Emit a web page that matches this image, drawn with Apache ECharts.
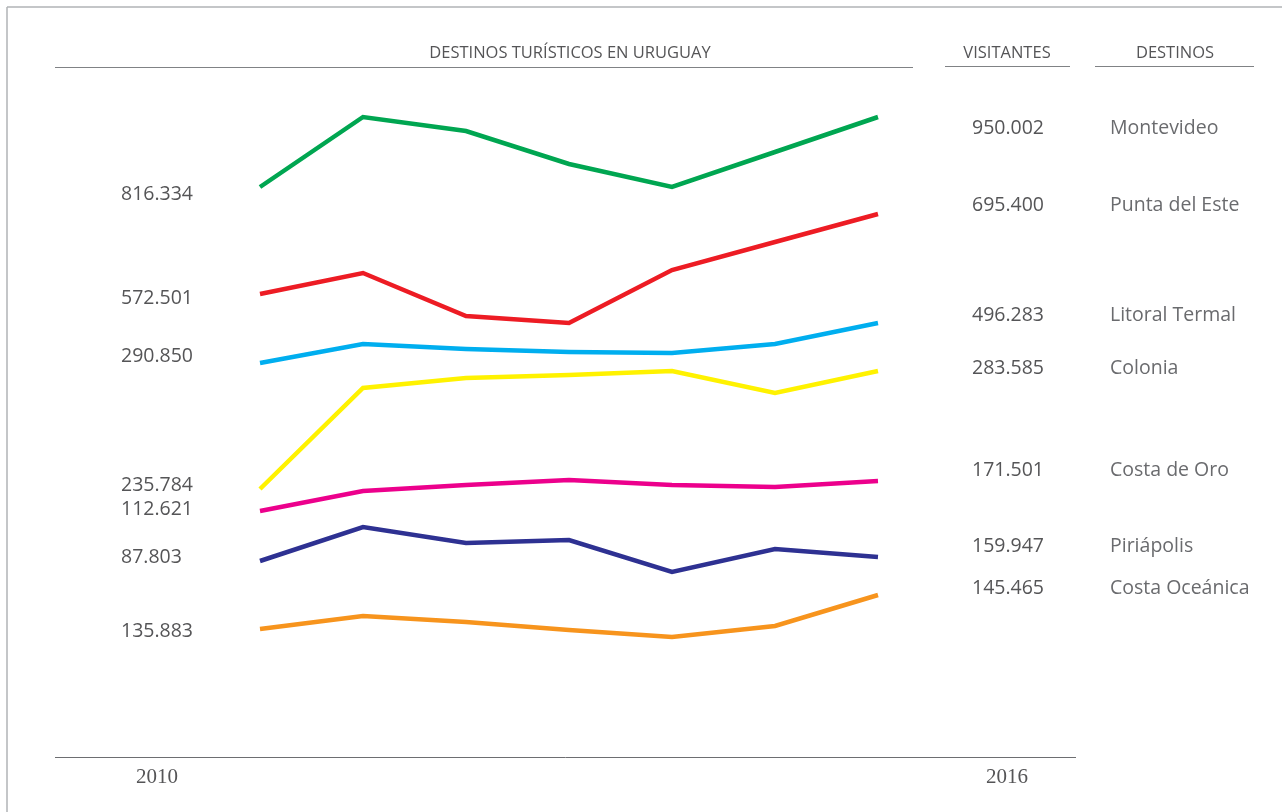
<!DOCTYPE html>
<html>
<head>
<meta charset="utf-8">
<script src="https://cdn.jsdelivr.net/npm/echarts@6/dist/echarts.min.js"></script>
<style>
  html, body { margin: 0; padding: 0; background: #ffffff; }
  #chart { width: 1282px; height: 812px; }
</style>
</head>
<body>
<div id="chart"></div>
<script>
// Years on the horizontal axis
const years = ['2010', '2011', '2012', '2013', '2014', '2015', '2016'];

// Destinations, top to bottom
const destinos = ['Montevideo', 'Punta del Este', 'Litoral Termal', 'Colonia', 'Costa de Oro', 'Piriápolis', 'Costa Oceánica'];

// Visitors in the first and the last year
const visitantes2010 = ['816.334', '572.501', '290.850', '235.784', '112.621', '87.803', '135.883'];
const visitantes2016 = ['950.002', '695.400', '496.283', '283.585', '171.501', '159.947', '145.465'];

// Relative height of each destination's line, year by year
const montevideo    = [57.0, 64.0, 62.6, 59.3, 57.0, 60.5, 64.0];
const puntaDelEste  = [46.3, 48.4, 44.1, 43.4, 48.7, 51.5, 54.3];
const litoralTermal = [39.4, 41.3, 40.8, 40.5, 40.4, 41.3, 43.4];
const colonia       = [26.8, 36.9, 37.9, 38.2, 38.6, 36.4, 38.6];
const costaDeOro    = [24.6, 26.6, 27.2, 27.7, 27.2, 27.0, 27.6];
const piriapolis    = [19.6, 23.0, 21.4, 21.7, 18.5, 20.8, 20.0];
const costaOceanica = [12.8, 14.1, 13.5, 12.7, 12.0, 13.1, 16.2];

const seriesData = [montevideo, puntaDelEste, litoralTermal, colonia, costaDeOro, piriapolis, costaOceanica];
const colors = ['#00a651', '#ed1c24', '#00aeef', '#fff200', '#ec008c', '#2e3192', '#f7941d'];

// Vertical placement of the side labels
const leftLabelY  = [194, 298, 356, 485, 509, 557, 631];
const rightLabelY = [128, 205, 315, 368, 470, 546, 588];

const SANS = '"Open Sans", "Noto Sans", sans-serif';
const SERIF = '"Liberation Serif", "DejaVu Serif", serif';
const TEXT_COLOR = '#555557';
const NAME_COLOR = '#6a6b6e';
const RULE_COLOR = '#808285';

const chart = echarts.init(document.getElementById('chart'), null, { renderer: 'canvas' });

function text(x, y, str, opts) {
  return {
    type: 'text', x: x, y: y, silent: true,
    style: Object.assign({
      text: str, fill: TEXT_COLOR, font: '19.5px ' + SANS,
      textAlign: 'left', textVerticalAlign: 'middle'
    }, opts || {})
  };
}
function rule(x1, y1, x2, y2, color, w) {
  return {
    type: 'line', silent: true,
    shape: { x1: x1, y1: y1, x2: x2, y2: y2 },
    style: { stroke: color || RULE_COLOR, lineWidth: w || 1 }
  };
}

const graphics = [
  // frame
  rule(7, 7, 1282, 7, '#b1b3b6', 1.5),
  rule(7, 7, 7, 812, '#b1b3b6', 1.5),
  // header rules
  rule(55, 67.5, 913, 67.5),
  rule(945, 66.5, 1070, 66.5),
  rule(1095, 66.5, 1254, 66.5),
  // bottom rule
  rule(55, 757.5, 1076, 757.5, '#6d6e71', 1),
  // headers
  text(570, 53, 'DESTINOS TURÍSTICOS EN URUGUAY', { font: '16.5px ' + SANS, textAlign: 'center' }),
  text(1007, 53, 'VISITANTES', { font: '16.5px ' + SANS, textAlign: 'center' }),
  text(1175, 53, 'DESTINOS', { font: '16.5px ' + SANS, textAlign: 'center' }),
  // years
  text(157, 777, years[0], { font: '21px ' + SERIF, textAlign: 'center' }),
  text(1007, 777, years[years.length - 1], { font: '21px ' + SERIF, textAlign: 'center' })
];

destinos.forEach(function (name, i) {
  graphics.push(text(121, leftLabelY[i], visitantes2010[i]));
  graphics.push(text(1008, rightLabelY[i], visitantes2016[i], { textAlign: 'center' }));
  graphics.push(text(1110, rightLabelY[i], name, { fill: NAME_COLOR }));
});

chart.setOption({
  backgroundColor: '#ffffff',
  animation: false,
  grid: { left: 260, right: 404, top: 67, bottom: 55 },
  xAxis: {
    type: 'category', data: years, boundaryGap: false,
    axisLine: { show: false }, axisTick: { show: false },
    axisLabel: { show: false }, splitLine: { show: false }
  },
  yAxis: {
    type: 'value', min: 0, max: 69,
    axisLine: { show: false }, axisTick: { show: false },
    axisLabel: { show: false }, splitLine: { show: false }
  },
  series: destinos.map(function (name, i) {
    return {
      name: name, type: 'line', data: seriesData[i],
      showSymbol: false, symbol: 'none', silent: true,
      lineStyle: { color: colors[i], width: 4.5, join: 'miter' }
    };
  }),
  graphic: graphics
});
</script>
</body>
</html>
